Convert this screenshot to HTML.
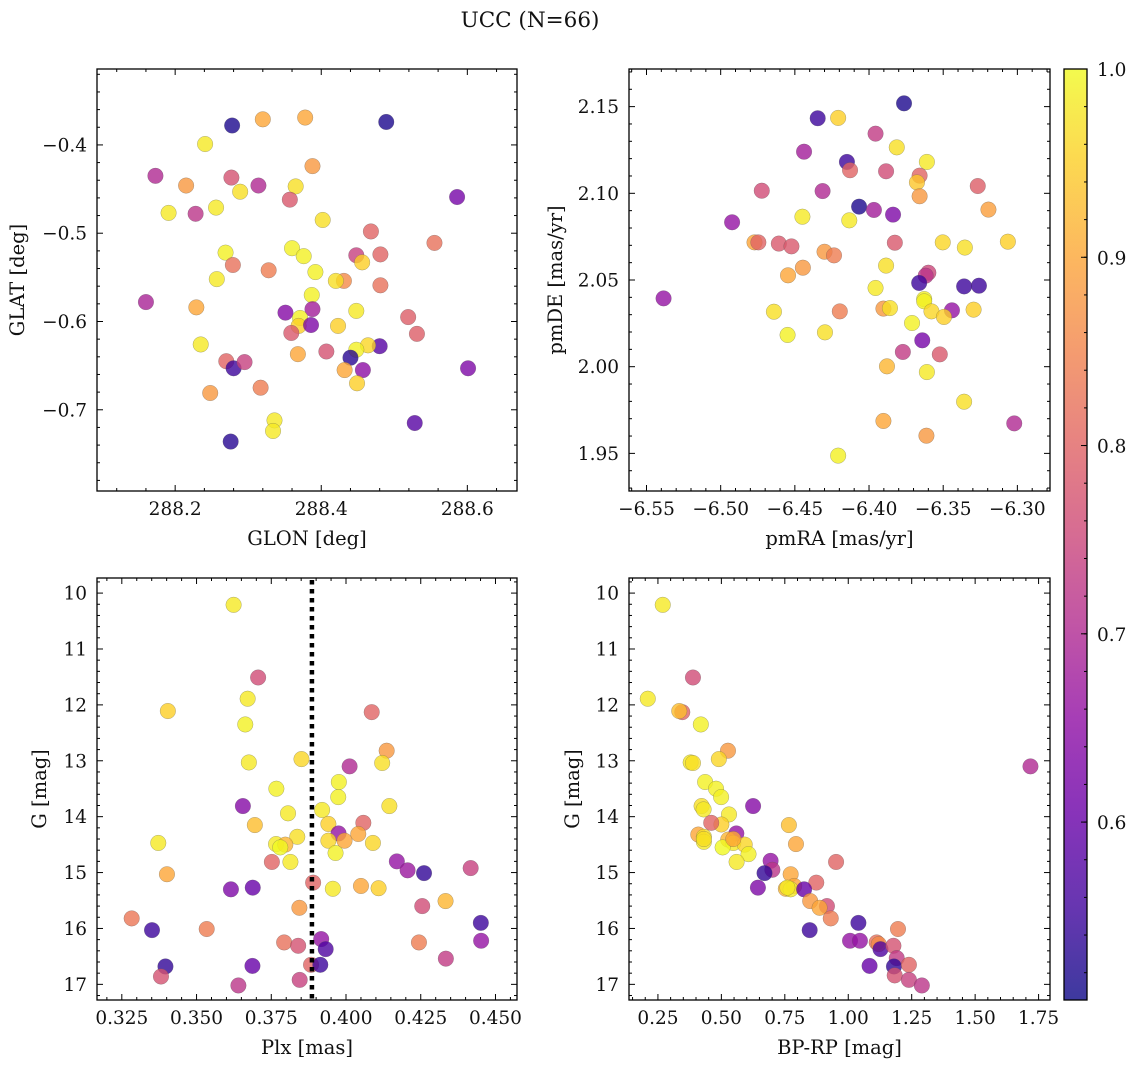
<!DOCTYPE html>
<html><head><meta charset="utf-8">
<style>
html,body{margin:0;padding:0;background:#fff;}
svg text{font-family:"DejaVu Serif","Liberation Serif",serif;fill:#111;}
</style></head>
<body>
<svg id="chart" width="1136" height="1068" viewBox="0 0 1136 1068" xmlns="http://www.w3.org/2000/svg">
<text x="530" y="27" font-size="21.5" text-anchor="middle">UCC (N=66)</text>
</svg>
<script>
// ---- Panel 1: GLON / GLAT ----
const glon = [288.278,288.320,288.378,288.489,288.241,288.173,288.215,288.277,288.314,288.388,288.289,288.365,288.191,288.228,288.256,288.357,288.586,288.402,288.468,288.555,288.269,288.360,288.376,288.279,288.448,288.481,288.456,288.257,288.328,288.392,288.431,288.420,288.481,288.387,288.160,288.229,288.351,288.388,288.448,288.371,288.369,288.359,288.386,288.423,288.519,288.531,288.235,288.480,288.464,288.448,288.407,288.368,288.440,288.270,288.280,288.295,288.432,288.457,288.601,288.449,288.248,288.317,288.336,288.334,288.276,288.528];
const glat = [-0.378,-0.371,-0.369,-0.374,-0.399,-0.435,-0.446,-0.437,-0.446,-0.424,-0.453,-0.447,-0.477,-0.478,-0.471,-0.462,-0.459,-0.485,-0.498,-0.511,-0.522,-0.517,-0.526,-0.536,-0.525,-0.524,-0.533,-0.552,-0.542,-0.544,-0.554,-0.554,-0.559,-0.570,-0.578,-0.584,-0.590,-0.586,-0.588,-0.596,-0.605,-0.613,-0.604,-0.605,-0.595,-0.614,-0.626,-0.628,-0.627,-0.632,-0.634,-0.637,-0.641,-0.645,-0.653,-0.646,-0.655,-0.655,-0.653,-0.670,-0.681,-0.675,-0.712,-0.724,-0.736,-0.715];
const prob1 = [0.52,0.9,0.9,0.52,0.98,0.7,0.88,0.77,0.7,0.88,0.97,0.97,0.98,0.72,0.98,0.78,0.62,0.97,0.8,0.82,0.99,0.99,0.99,0.82,0.74,0.8,0.95,0.98,0.84,0.99,0.86,0.97,0.82,0.99,0.69,0.9,0.64,0.68,0.98,0.99,0.95,0.78,0.63,0.95,0.79,0.79,0.98,0.58,0.96,0.99,0.77,0.9,0.53,0.8,0.55,0.74,0.9,0.65,0.63,0.95,0.88,0.84,0.98,0.98,0.53,0.58];
// ---- Panel 2: pmRA / pmDE ----
const pmra = [-6.3764,-6.4346,-6.4208,-6.3956,-6.4438,-6.3813,-6.4149,-6.4128,-6.3885,-6.3610,-6.3659,-6.3677,-6.4723,-6.4313,-6.3267,-6.3659,-6.4067,-6.3967,-6.3838,-6.3195,-6.4923,-6.4449,-6.4133,-6.4772,-6.4746,-6.4608,-6.4523,-6.4300,-6.4236,-6.3826,-6.3503,-6.3354,-6.3064,-6.3885,-6.4446,-6.4546,-6.3600,-6.3618,-6.3662,-6.3359,-6.3259,-6.3956,-6.5385,-6.3628,-6.3628,-6.4641,-6.4197,-6.3903,-6.3859,-6.3579,-6.3441,-6.3295,-6.3495,-6.3710,-6.4549,-6.4297,-6.3641,-6.3772,-6.3523,-6.3879,-6.3610,-6.3359,-6.3903,-6.3021,-6.3613,-6.4208];
const pmde = [2.1519,2.1433,2.1435,2.1344,2.1240,2.1265,2.1181,2.1133,2.1127,2.1181,2.1102,2.1063,2.1015,2.1013,2.1042,2.0983,2.0923,2.0904,2.0877,2.0906,2.0833,2.0865,2.0844,2.0717,2.0717,2.0710,2.0694,2.0663,2.0642,2.0715,2.0717,2.0687,2.0721,2.0583,2.0571,2.0527,2.0542,2.0525,2.0483,2.0463,2.0467,2.0454,2.0394,2.0390,2.0377,2.0317,2.0319,2.0335,2.0338,2.0319,2.0325,2.0329,2.0287,2.0252,2.0183,2.0198,2.0152,2.0085,2.0071,2.0002,1.9969,1.9798,1.9687,1.9673,1.9602,1.9487];
const prob2 = [0.52,0.55,0.95,0.73,0.68,0.97,0.55,0.8,0.76,0.98,0.8,0.94,0.76,0.7,0.79,0.88,0.52,0.68,0.63,0.89,0.66,0.98,0.98,0.9,0.8,0.78,0.78,0.88,0.84,0.78,0.96,0.97,0.95,0.97,0.88,0.9,0.75,0.72,0.55,0.55,0.55,0.98,0.66,0.99,0.99,0.97,0.84,0.88,0.97,0.96,0.66,0.95,0.95,0.99,0.99,0.97,0.62,0.73,0.78,0.92,0.98,0.97,0.9,0.7,0.88,0.99];
// ---- Panel 3: Plx / G ----
const plx = [0.3624,0.3706,0.3671,0.3404,0.3663,0.4086,0.4136,0.3675,0.3851,0.4121,0.4012,0.3976,0.3767,0.3974,0.3655,0.4145,0.3806,0.3920,0.3695,0.3941,0.4058,0.3975,0.4041,0.3837,0.3372,0.3766,0.3797,0.3780,0.3941,0.3995,0.4090,0.3965,0.3752,0.3814,0.4170,0.4206,0.4261,0.4417,0.3401,0.3890,0.3615,0.3688,0.3956,0.4050,0.4109,0.4333,0.3844,0.4255,0.3283,0.4451,0.3351,0.3534,0.3793,0.3840,0.3917,0.3932,0.4244,0.4452,0.4334,0.3396,0.3687,0.3883,0.3914,0.3381,0.3845,0.3640];
const gmag3 = [10.21,11.51,11.89,12.11,12.35,12.13,12.82,13.03,12.97,13.04,13.10,13.38,13.50,13.65,13.81,13.81,13.94,13.88,14.15,14.13,14.11,14.30,14.31,14.36,14.47,14.49,14.50,14.55,14.43,14.43,14.47,14.65,14.81,14.81,14.80,14.96,15.01,14.92,15.03,15.18,15.30,15.27,15.29,15.24,15.28,15.51,15.63,15.60,15.82,15.90,16.03,16.01,16.25,16.31,16.19,16.37,16.25,16.22,16.54,16.68,16.67,16.65,16.65,16.86,16.92,17.02];
const prob3 = [0.98,0.76,0.98,0.95,0.99,0.8,0.88,0.98,0.96,0.97,0.7,0.99,0.99,0.99,0.64,0.97,0.98,0.98,0.93,0.95,0.8,0.66,0.9,0.97,0.98,0.98,0.92,1.0,0.96,0.9,0.96,0.99,0.8,0.98,0.66,0.67,0.54,0.74,0.9,0.8,0.63,0.6,0.98,0.9,0.95,0.92,0.88,0.76,0.83,0.55,0.55,0.84,0.82,0.77,0.66,0.57,0.84,0.66,0.73,0.54,0.6,0.8,0.55,0.77,0.74,0.72];
const plxLine = [0.3886];
// ---- Panel 4: BP-RP / G ----
const bprp = [0.269,0.388,0.210,0.346,0.334,0.419,0.526,0.490,0.379,0.388,1.718,0.436,0.479,0.499,0.625,0.422,0.430,0.530,0.766,0.500,0.460,0.559,0.409,0.431,0.431,0.527,0.547,0.794,0.592,0.505,0.607,0.952,0.560,0.694,0.701,0.670,0.773,0.874,0.644,0.754,0.787,0.773,0.826,0.850,0.916,0.887,0.931,1.040,0.848,1.196,1.007,1.046,1.112,1.120,1.127,1.178,1.191,1.084,1.180,1.239,1.183,1.239,1.290,0.547,0.431,0.760];
const gmag4 = [10.21,11.51,11.89,12.13,12.11,12.35,12.82,12.97,13.03,13.04,13.10,13.38,13.50,13.65,13.81,13.81,13.87,13.96,14.15,14.14,14.11,14.30,14.32,14.36,14.45,14.41,14.47,14.49,14.50,14.55,14.67,14.81,14.81,14.79,14.95,15.01,15.03,15.18,15.27,15.29,15.24,15.30,15.30,15.51,15.60,15.63,15.82,15.90,16.03,16.01,16.22,16.22,16.25,16.28,16.37,16.31,16.53,16.67,16.68,16.65,16.84,16.92,17.02,14.40,14.40,15.27];
const prob4 = [0.98,0.76,0.98,0.8,0.93,0.99,0.88,0.96,0.98,0.97,0.7,0.99,0.99,0.99,0.64,0.97,0.98,0.98,0.93,0.95,0.8,0.66,0.9,0.97,0.98,0.92,0.98,0.9,0.96,1.0,0.99,0.8,0.98,0.66,0.72,0.54,0.9,0.8,0.63,0.92,0.9,0.98,0.6,0.88,0.76,0.9,0.84,0.55,0.55,0.84,0.66,0.66,0.82,0.86,0.57,0.77,0.73,0.6,0.54,0.8,0.77,0.74,0.72,0.9,0.97,0.98];
const cbTicks = [0.6,0.7,0.8,0.9,1.0];

const NS = "http://www.w3.org/2000/svg";
const svg = document.getElementById('chart');
const CMIN = 0.5055, CMAX = 1.0;
const FS = 18.5, FL = 19.5;
const plasma = ["#0d0887","#41049d","#6a00a8","#8f0da4","#b12a90","#cc4778","#e16462","#f2844b","#fca636","#fcce25","#f0f921"];
function hex(h){return [parseInt(h.substr(1,2),16),parseInt(h.substr(3,2),16),parseInt(h.substr(5,2),16)];}
function cmap(v){
  let t=(v-CMIN)/(CMAX-CMIN); t=Math.max(0,Math.min(1,t));
  const p=t*10, i=Math.min(9,Math.floor(p)), f=p-i;
  const a=hex(plasma[i]), b=hex(plasma[i+1]);
  return 'rgb('+a.map((x,k)=>Math.round(x+(b[k]-x)*f)).join(',')+')';
}
function mk(tag, attrs, parent){
  const e=document.createElementNS(NS,tag);
  for(const k in attrs) e.setAttribute(k,attrs[k]);
  (parent||svg).appendChild(e); return e;
}
function fmt(v,d){return (v<0?'\u2212':'')+Math.abs(v).toFixed(d);}

function panel(cfg){
  const g=mk('g',{});
  
  
  const {x0,x1,y0,y1,xmin,xmax,ymin,ymax,invY}=cfg;
  const sx=v=>x0+(v-xmin)/(xmax-xmin)*(x1-x0);
  const sy=v=> invY ? y0+(v-ymin)/(ymax-ymin)*(y1-y0) : y1-(v-ymin)/(ymax-ymin)*(y1-y0);
  const pg=mk('g',{},g);
  
  
  for(let i=0;i<cfg.xs.length;i++){
    const c=mk('circle',{cx:sx(cfg.xs[i]),cy:sy(cfg.ys[i]),r:7.8,fill:cmap(cfg.cs[i]),'fill-opacity':0.8,stroke:'#555','stroke-width':0.4,'stroke-opacity':0.6},pg);
    
    
  }
  if(cfg.vline){
    const l=mk('line',{x1:sx(cfg.vline[0]),x2:sx(cfg.vline[0]),y1:y0+2,y2:y1,stroke:'#000','stroke-width':4.5,'stroke-dasharray':'4.5 4.5'},g);
    
    
  }
  const fr=mk('rect',{x:x0,y:y0,width:x1-x0,height:y1-y0,fill:'none',stroke:'#000','stroke-width':1.3},g);
  
  
  const eps=1e-9;
  for(let v=Math.ceil(xmin/cfg.xminor-eps)*cfg.xminor; v<=xmax+eps; v+=cfg.xminor){
    const X=sx(v); const major=Math.abs(v/cfg.xmajor-Math.round(v/cfg.xmajor))<1e-6;
    const L=major?6:3;
    mk('line',{x1:X,x2:X,y1:y1,y2:y1-L,stroke:'#000','stroke-width':1},g);
    mk('line',{x1:X,x2:X,y1:y0,y2:y0+L,stroke:'#000','stroke-width':1},g);
    if(major){
      const t=mk('text',{x:X,y:y1+24,'font-size':FS,'text-anchor':'middle'},g);
      t.textContent=fmt(v,cfg.xdec);
      
      
    }
  }
  for(let v=Math.ceil(ymin/cfg.yminor-eps)*cfg.yminor; v<=ymax+eps; v+=cfg.yminor){
    const Y=sy(v); const major=Math.abs(v/cfg.ymajor-Math.round(v/cfg.ymajor))<1e-6;
    const L=major?6:3;
    mk('line',{x1:x0,x2:x0+L,y1:Y,y2:Y,stroke:'#000','stroke-width':1},g);
    mk('line',{x1:x1,x2:x1-L,y1:Y,y2:Y,stroke:'#000','stroke-width':1},g);
    if(major){
      const t=mk('text',{x:x0-10,y:Y+6.5,'font-size':FS,'text-anchor':'end'},g);
      t.textContent=fmt(v,cfg.ydec);
      
      
    }
  }
  const xt=mk('text',{x:(x0+x1)/2,y:y1+54,'font-size':FL,'text-anchor':'middle'},g);
  xt.textContent=cfg.xlabel;
  
  
  const yt=mk('text',{x:0,y:0,'font-size':FL,'text-anchor':'middle',transform:'translate('+cfg.ylabx+','+((y0+y1)/2)+') rotate(-90)'},g);
  yt.textContent=cfg.ylabel;
  
  
}

panel({name:'glon-glat-panel',x0:97,x1:517,y0:69,y1:491,xmin:288.093,xmax:288.668,ymin:-0.792,ymax:-0.314,
  xmajor:0.2,xminor:0.04,ymajor:0.1,yminor:0.02,xdec:1,ydec:1,xs:glon,ys:glat,cs:prob1,xlabel:'GLON [deg]',ylabel:'GLAT [deg]',ylabx:24});
panel({name:'pm-panel',x0:629,x1:1050,y0:69,y1:491,xmin:-6.5618,xmax:-6.278,ymin:1.9283,ymax:2.1717,
  xmajor:0.05,xminor:0.01,ymajor:0.05,yminor:0.01,xdec:2,ydec:2,xs:pmra,ys:pmde,cs:prob2,xlabel:'pmRA [mas/yr]',ylabel:'pmDE [mas/yr]',ylabx:562});
panel({name:'plx-g-panel',x0:97,x1:517,y0:578,y1:1000,xmin:0.3167,xmax:0.4572,ymin:9.73,ymax:17.28,invY:true,
  xmajor:0.025,xminor:0.005,ymajor:1,yminor:0.2,xdec:3,ydec:0,xs:plx,ys:gmag3,cs:prob3,xlabel:'Plx [mas]',ylabel:'G [mag]',ylabx:46,vline:plxLine});
panel({name:'cmd-panel',x0:629,x1:1050,y0:578,y1:1000,xmin:0.136,xmax:1.795,ymin:9.73,ymax:17.28,invY:true,
  xmajor:0.25,xminor:0.05,ymajor:1,yminor:0.2,xdec:2,ydec:0,xs:bprp,ys:gmag4,cs:prob4,xlabel:'BP-RP [mag]',ylabel:'G [mag]',ylabx:579});

(function(){
  const x0=1064,x1=1087,y0=69,y1=1000;
  const cb=mk('g',{});
  
  
  const defs=mk('defs',{},cb);
  const grad=mk('linearGradient',{id:'cbg',x1:0,y1:1,x2:0,y2:0},defs);
  for(let i=0;i<=20;i++){
    const v=CMIN+(CMAX-CMIN)*i/20;
    mk('stop',{offset:(i/20),'stop-color':cmap(v),'stop-opacity':0.8},grad);
  }
  mk('rect',{x:x0,y:y0,width:x1-x0,height:y1-y0,fill:'url(#cbg)',stroke:'#000','stroke-width':1.3},cb);
  const sy=v=>y1-(v-CMIN)/(CMAX-CMIN)*(y1-y0);
  for(let v=0.52; v<=1.0001; v+=0.02){
    const Y=sy(v);
    mk('line',{x1:x1,x2:x1-3,y1:Y,y2:Y,stroke:'#000','stroke-width':1},cb);
  }
  for(const v of cbTicks){
    const Y=sy(v);
    mk('line',{x1:x1,x2:x1-6,y1:Y,y2:Y,stroke:'#000','stroke-width':1},cb);
    const t=mk('text',{x:1097,y:Y+7,'font-size':FS},cb);
    t.textContent=v.toFixed(1);
    
    
  }
})();
</script>
</body></html>
